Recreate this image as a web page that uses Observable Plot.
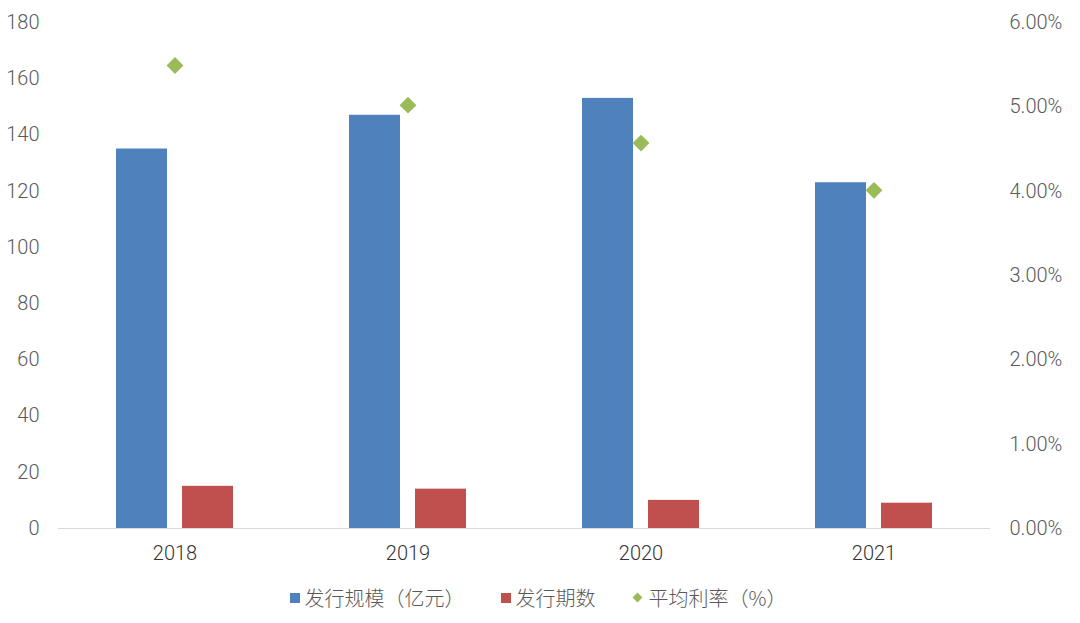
<!DOCTYPE html>
<html>
<head>
<meta charset="utf-8">
<script src="https://cdn.jsdelivr.net/npm/d3@7"></script>
<script src="https://cdn.jsdelivr.net/npm/@observablehq/plot@0.6"></script>
<style>
  body { margin: 0; background: #fff; font-family: Roboto, "Noto Sans CJK SC", sans-serif; }
  #legend { height: 51px; display: flex; justify-content: center; align-items: center; font-size: 20px; color: #595959; font-family: "Noto Sans CJK SC", sans-serif; font-weight: 300; padding-right: 4px; }
  .item { display: flex; align-items: center; margin: 0 18px; }
  .sw { width: 10px; height: 10px; margin-right: 5px; }
  .dia { width: 7px; height: 7px; transform: rotate(45deg); margin-right: 8px; margin-left: 2px; }
</style>
</head>
<body>
<div id="chart"></div>
<div id="legend"></div>
<script>
const years = ["2018", "2019", "2020", "2021"];
const scaleValues = [135, 147, 153, 123];      // 发行规模（亿元）
const countValues = [15, 14, 10, 9];           // 发行期数
const rateValues = [5.49, 5.02, 4.57, 4.01];   // 平均利率（%）
const seriesNames = ["发行规模（亿元）", "发行期数", "平均利率（%）"];
const seriesColors = ["#4F81BD", "#C0504D", "#9BBB59"];
const leftTicks = [0, 20, 40, 60, 80, 100, 120, 140, 160, 180];
const rightTicks = [0, 1, 2, 3, 4, 5, 6];
const leftMax = 180, rightMax = 6;
const k = leftMax / rightMax;

const bars = years.flatMap((y, i) => [
  {year: y, series: seriesNames[0], value: scaleValues[i]},
  {year: y, series: seriesNames[1], value: countValues[i]}
]);
const rates = years.map((y, i) => ({year: y, rate: rateValues[i]}));

const chart = Plot.plot({
  width: 1080,
  height: 572,
  marginLeft: 58,
  marginRight: 90,
  marginTop: 22,
  marginBottom: 44,
  style: {fontFamily: 'Roboto, "Noto Sans CJK SC", sans-serif', fontSize: "20px", color: "#595959", fontWeight: 300},
  y: {domain: [0, leftMax]},
  fx: {domain: years, padding: 0},
  x: {domain: seriesNames.slice(0, 2), paddingInner: 0.22, paddingOuter: 0.85, axis: null},
  color: {domain: seriesNames, range: seriesColors},
  marks: [
    Plot.ruleY([0], {stroke: "#d9d9d9", strokeWidth: 1.2}),
    Plot.barY(bars, {fx: "year", x: "series", y: "value", fill: "series"}),
    Plot.dot(rates, {fx: "year", y: d => d.rate * k, symbol: "diamond2", r: 7.6, fill: seriesColors[2], stroke: "none"}),
    Plot.axisY(leftTicks, {anchor: "left", tickSize: 0, tickPadding: 19, label: null}),
    Plot.axisY(rightTicks.map(v => v * k), {anchor: "right", tickSize: 0, tickPadding: 19, label: null, tickFormat: d => (d / k).toFixed(2) + "%"}),
    Plot.axisFx({anchor: "bottom", tickSize: 0, tickPadding: 17, label: null, fill: "#333"})
  ]
});
document.getElementById("chart").appendChild(chart);

const legend = document.getElementById("legend");
seriesNames.forEach((name, i) => {
  const item = document.createElement("div");
  item.className = "item";
  const sw = document.createElement("div");
  sw.className = i === 2 ? "dia" : "sw";
  sw.style.background = seriesColors[i];
  const t = document.createElement("span");
  t.textContent = name;
  item.appendChild(sw);
  item.appendChild(t);
  legend.appendChild(item);
});
</script>
</body>
</html>
